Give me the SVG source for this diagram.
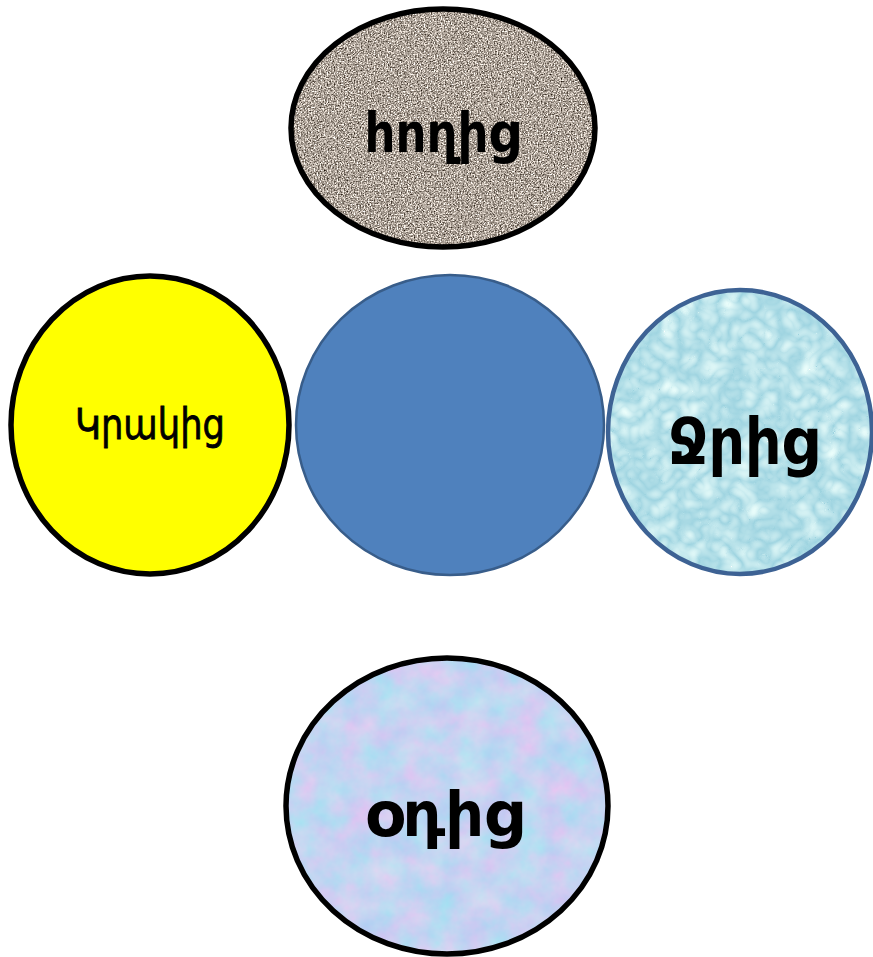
<svg xmlns="http://www.w3.org/2000/svg" width="873" height="957" viewBox="0 0 873 957">
<style>
.lbl{font-family:"DejaVu Sans","Noto Sans",sans-serif;fill:#000;text-anchor:middle}
.b{font-weight:bold}
.blk{fill:none;stroke:#000;stroke-width:5.5}
filter{color-interpolation-filters:sRGB}
</style>
<defs>
<filter id="granite" x="0" y="0" width="1" height="1" color-interpolation-filters="sRGB">
<feTurbulence type="fractalNoise" baseFrequency="0.7" numOctaves="2" seed="4" result="n"/>
<feColorMatrix in="n" type="matrix" values="1.5 0 0 0 -0.07  1.5 0 0 0 -0.11  1.5 0 0 0 -0.15  0 0 0 0 1"/>
<feComposite in2="SourceGraphic" operator="in"/>
</filter>
<filter id="water" x="0" y="0" width="1" height="1" color-interpolation-filters="sRGB">
<feTurbulence type="turbulence" baseFrequency="0.05" numOctaves="2" seed="7" result="n"/>
<feColorMatrix in="n" type="matrix" values="0.4 0 0 0 0.62  0.22 0 0 0 0.83  0.14 0 0 0 0.88  0 0 0 0 1"/>
<feComposite in2="SourceGraphic" operator="in"/>
</filter>
<filter id="air" x="0" y="0" width="1" height="1" color-interpolation-filters="sRGB">
<feTurbulence type="fractalNoise" baseFrequency="0.035" numOctaves="4" seed="11" result="n"/>
<feColorMatrix in="n" type="matrix" values="0.3 -0.1 0 0 0.67  -0.05 0.15 0 0 0.78  0 0 0 0 0.95  0 0 0 0 1"/>
<feComposite in2="SourceGraphic" operator="in"/>
</filter>
</defs>
<g id="connectors"></g>
<g id="node-soil">
<ellipse cx="443" cy="128" rx="152" ry="119" fill="#b0a59c" filter="url(#granite)"/>
<ellipse cx="443" cy="128" rx="152" ry="119" class="blk"/>
<text x="442" y="152" class="lbl b" font-size="56" textLength="155" lengthAdjust="spacingAndGlyphs">հողից</text>
</g>
<g id="node-fire">
<ellipse cx="150" cy="425" rx="139" ry="149" fill="#ffff00"/>
<ellipse cx="150" cy="425" rx="139" ry="149" class="blk"/>
<text x="150" y="439" class="lbl" font-size="42" textLength="150" lengthAdjust="spacingAndGlyphs" stroke="#000" stroke-width="0.8">Կրակից</text>
</g>
<g id="node-center">
<ellipse cx="450" cy="425" rx="154" ry="150" fill="#4f81bd" stroke="#385d8a" stroke-width="2.5"/>
</g>
<g id="node-water">
<ellipse cx="740" cy="432" rx="132" ry="142" fill="#aadce8" filter="url(#water)"/>
<ellipse cx="740" cy="432" rx="132" ry="142" fill="none" stroke="#3d6294" stroke-width="4.5"/>
<text x="743" y="464" class="lbl b" font-size="64" textLength="150" lengthAdjust="spacingAndGlyphs">Ջրից</text>
</g>
<g id="node-air">
<ellipse cx="447" cy="806" rx="161" ry="148" fill="#c8d4f0" filter="url(#air)"/>
<ellipse cx="447" cy="806" rx="161" ry="148" class="blk"/>
<text x="444" y="836" class="lbl b" font-size="62" textLength="158" lengthAdjust="spacingAndGlyphs">օդից</text>
</g>
</svg>
